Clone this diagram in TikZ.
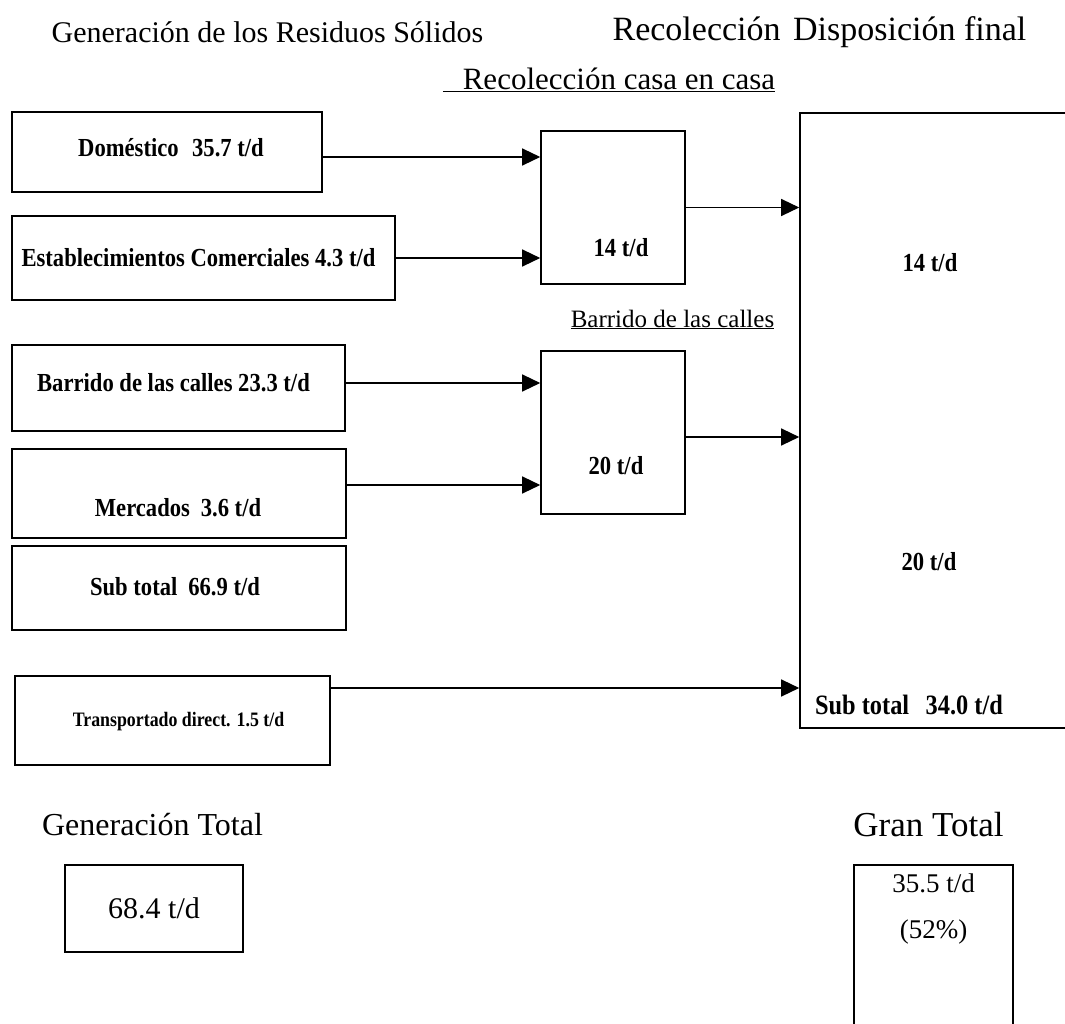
\documentclass[tikz,border=0pt]{standalone}
\usepackage{fontspec}
\setmainfont{Liberation Serif}
\usetikzlibrary{arrows.meta,calc}

% narrow bold lettering used inside the boxes
\newcommand{\narrowtxt}[1]{\scalebox{0.87}[1]{#1}}

\tikzset{
  box/.style={draw, line width=1.6pt, inner sep=0pt},
  flow/.style={line width=1.3pt, -{Triangle[length=18pt,width=17pt]}},
  head/.style={font=\fontsize{30}{34}\selectfont, inner sep=0pt},
  lbl/.style={font=\bfseries\fontsize{26}{30}\selectfont, inner sep=0pt},
  lblsmall/.style={font=\bfseries\fontsize{20.5}{24}\selectfont, inner sep=0pt},
}

\begin{document}
\begin{tikzpicture}[x=1pt,y=-1pt]
\useasboundingbox[fill=white] (0,0) rectangle (1065,1024);

% column headings
\node[head] (h1) at (267.5,32) {Generación de los Residuos Sólidos};
\node[head, font=\fontsize{34}{38}\selectfont] (h2) at (819.5,32) {Recolección\hspace{4pt} Disposición final};
\node[head, anchor=base, font=\fontsize{31}{34}\selectfont] (hcasa) at (609,90) {\underline{\hspace{20pt}Recolección casa en casa}};
\node[head, anchor=base, font=\fontsize{25}{28}\selectfont] (hbar) at (672.5,327) {\underline{Barrido de las calles}};

% sources
\node[box, minimum width=310pt, minimum height=80pt] (dom) at (167,152) {};
\node[lbl] (doml) at ($(dom)+(4,-4)$) {\narrowtxt{Doméstico\hspace{9pt} 35.7 t/d}};
\node[box, minimum width=383pt, minimum height=84pt] (est) at (203.5,258) {};
\node[lbl] (estl) at ($(est)+(-5,0)$) {\narrowtxt{Establecimientos Comerciales 4.3 t/d}};
\node[box, minimum width=333pt, minimum height=86pt] (bar) at (178.5,388) {};
\node[lbl] (barl) at ($(bar)+(-5,-5)$) {\narrowtxt{Barrido de las calles 23.3 t/d}};
\node[box, minimum width=334pt, minimum height=89pt] (mer) at (179,493.5) {};
\node[lbl] (merl) at ($(mer)+(-1,14)$) {\narrowtxt{Mercados\hspace{6pt} 3.6 t/d}};
\node[box, minimum width=334pt, minimum height=84pt] (sub) at (179,588) {};
\node[lbl] (subl) at ($(sub)+(-4,-1)$) {\narrowtxt{Sub total\hspace{6pt} 66.9 t/d}};
\node[box, minimum width=315pt, minimum height=89pt] (tra) at (172.5,720.5) {};
\node[lblsmall] (tral) at ($(tra)+(6,1)$) {\narrowtxt{Transportado direct. 1.5 t/d}};

% collection boxes
\node[box, minimum width=144pt, minimum height=153pt] (c14) at (613,207.5) {};
\node[lbl] (c14l) at ($(c14)+(8,40)$) {\narrowtxt{14 t/d}};
\node[box, minimum width=144pt, minimum height=163pt] (c20) at (613,432.5) {};
\node[lbl] (c20l) at ($(c20)+(3,33)$) {\narrowtxt{20 t/d}};

% final disposal
\node[box, minimum width=290pt, minimum height=615pt] (fin) at (945,420.5) {};
\node[lbl] (f14) at (930,263) {\narrowtxt{14 t/d}};
\node[lbl] (f20) at (929,562) {\narrowtxt{20 t/d}};
\node[lbl, font=\bfseries\fontsize{28}{32}\selectfont] (fsub) at (909,705) {\narrowtxt{Sub total\hspace{12pt} 34.0 t/d}};

% flows
\draw[flow] ([yshift=-5pt]dom.east) -- ([yshift=-5pt]dom.east -| c14.west);
\draw[flow] (est.east) -- (est.east -| c14.west);
\draw[flow] ([yshift=5pt]bar.east) -- ([yshift=5pt]bar.east -| c20.west);
\draw[flow] ([yshift=8.5pt]mer.east) -- ([yshift=8.5pt]mer.east -| c20.west);
\draw[flow] (c14.east) -- (c14.east -| fin.west);
\draw[flow] ([yshift=-4.5pt]c20.east) -- ([yshift=-4.5pt]c20.east -| fin.west);
\draw[flow] ([yshift=32.5pt]tra.east) -- ([yshift=32.5pt]tra.east -| fin.west);

% totals
\node[head, font=\fontsize{32}{36}\selectfont] (gtl) at (152.5,825) {Generación Total};
\node[box, minimum width=178pt, minimum height=87pt, font=\fontsize{30}{34}\selectfont] (gt) at (154,908.5) {68.4 t/d};
\node[head, font=\fontsize{35}{38}\selectfont] (grl) at (928.5,825) {Gran Total};
\node[box, minimum width=159pt, minimum height=175pt] (gr) at (933.5,952.5) {};
\node[head, font=\fontsize{27}{30}\selectfont] (grv) at (933.5,883) {35.5 t/d};
\node[head, font=\fontsize{27}{30}\selectfont] (grp) at (933.5,932) {(52\%)};
\end{tikzpicture}
\end{document}
